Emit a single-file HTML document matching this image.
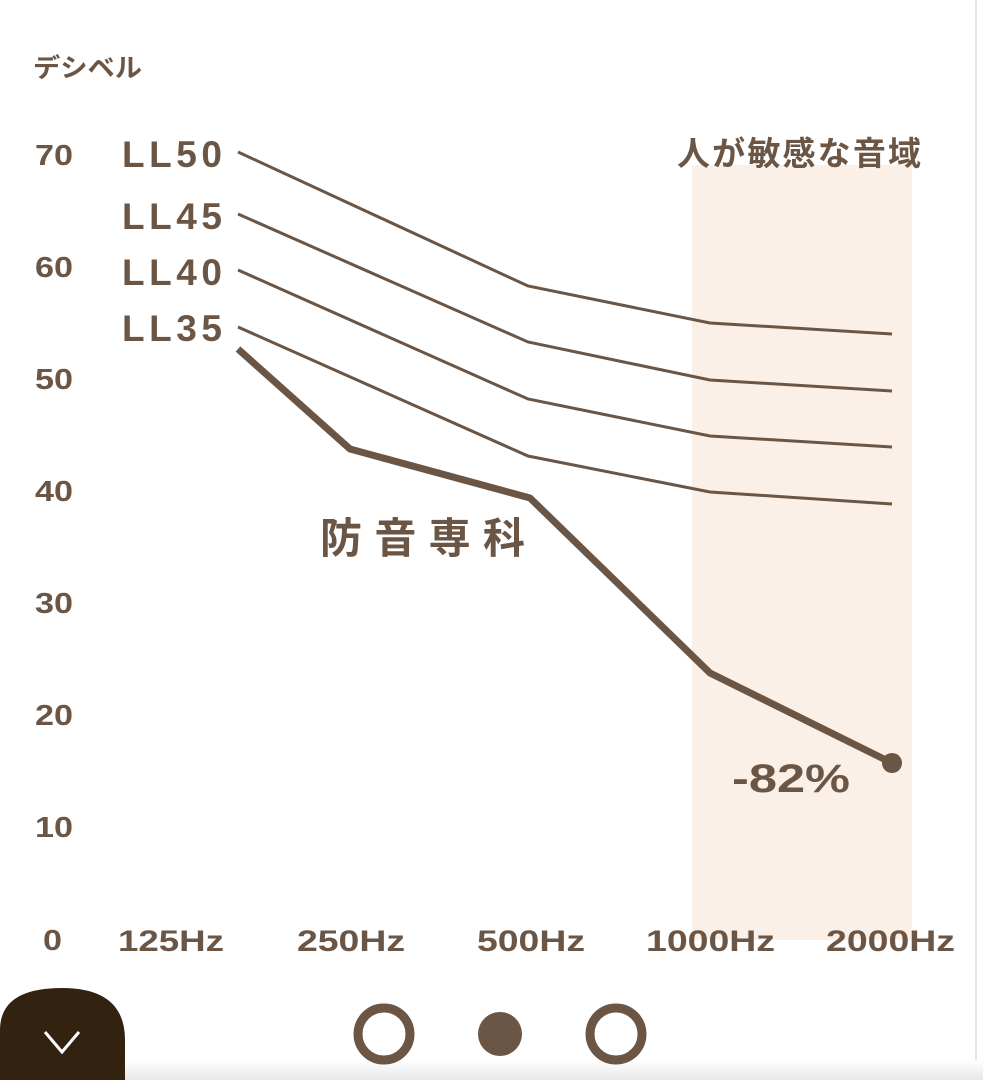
<!DOCTYPE html>
<html><head><meta charset="utf-8"><style>
html,body{margin:0;padding:0;background:#fff;}
svg{display:block;}
text{font-family:"Liberation Sans","Noto Sans CJK JP",sans-serif;fill:#6b5646;font-weight:bold;}
</style></head><body>
<svg width="983" height="1080" viewBox="0 0 983 1080">
<rect x="0" y="0" width="983" height="1080" fill="#fff"/>
<rect x="692" y="165" width="220" height="775" fill="#faf0e7"/>
<line x1="976" y1="0" x2="976" y2="1080" stroke="#e4e4e4" stroke-width="2"/>
<text x="33" y="77" font-size="26" textLength="109" lengthAdjust="spacingAndGlyphs">デシベル</text>
<g font-size="29">
<text x="35" y="165" textLength="38" lengthAdjust="spacingAndGlyphs">70</text>
<text x="35" y="277" textLength="38" lengthAdjust="spacingAndGlyphs">60</text>
<text x="35" y="389" textLength="38" lengthAdjust="spacingAndGlyphs">50</text>
<text x="35" y="501" textLength="38" lengthAdjust="spacingAndGlyphs">40</text>
<text x="35" y="613" textLength="38" lengthAdjust="spacingAndGlyphs">30</text>
<text x="35" y="725" textLength="38" lengthAdjust="spacingAndGlyphs">20</text>
<text x="35" y="837" textLength="38" lengthAdjust="spacingAndGlyphs">10</text>
<text x="43" y="950" textLength="19" lengthAdjust="spacingAndGlyphs">0</text>
</g>
<g font-size="37">
<text x="122" y="167" textLength="100">LL50</text><text x="122" y="229" textLength="100">LL45</text>
<text x="122" y="285" textLength="100">LL40</text><text x="122" y="341" textLength="100">LL35</text>
</g>
<text x="677" y="165" font-size="33" textLength="244">人が敏感な音域</text>
<g fill="none" stroke="#6b5646" stroke-width="3">
<polyline points="238,152 528,286 710,323 892,334"/>
<polyline points="238,214 528,342 710,380 892,391"/>
<polyline points="238,270 528,399 710,436 892,447"/>
<polyline points="238,327 528,456 710,492 892,504"/>
</g>
<polyline points="238,349 350,449 530,498 710,673 892,763" fill="none" stroke="#6b5646" stroke-width="7" stroke-linejoin="round"/>
<circle cx="892" cy="763" r="10" fill="#6b5646"/>
<text x="320" y="553" font-size="42" textLength="205">防音専科</text>
<text x="732" y="792" font-size="40" font-weight="normal" textLength="118" lengthAdjust="spacingAndGlyphs" style="font-weight:600">-82%</text>
<g font-size="30">
<text x="118" y="951" textLength="106" lengthAdjust="spacingAndGlyphs">125Hz</text>
<text x="297" y="951" textLength="108" lengthAdjust="spacingAndGlyphs">250Hz</text>
<text x="477" y="951" textLength="108" lengthAdjust="spacingAndGlyphs">500Hz</text>
<text x="646" y="951" textLength="129" lengthAdjust="spacingAndGlyphs">1000Hz</text>
<text x="826" y="951" textLength="129" lengthAdjust="spacingAndGlyphs">2000Hz</text>
</g>
<defs><linearGradient id="g" x1="0" y1="0" x2="0" y2="1"><stop offset="0" stop-color="#fff"/><stop offset="1" stop-color="#e8e8e8"/></linearGradient></defs>
<rect x="0" y="1060" width="983" height="20" fill="url(#g)"/>
<path d="M0,1080 L0,1030 Q0,988 62,988 Q125,988 125,1040 L125,1080 Z" fill="#33220f"/>
<polyline points="45,1032 62,1052 79,1032" fill="none" stroke="#fff" stroke-width="3"/>
<circle cx="384" cy="1034" r="26" fill="none" stroke="#6b5646" stroke-width="9"/>
<circle cx="500" cy="1034" r="22" fill="#6b5646"/>
<circle cx="616" cy="1034" r="26" fill="none" stroke="#6b5646" stroke-width="9"/>
</svg>
</body></html>
